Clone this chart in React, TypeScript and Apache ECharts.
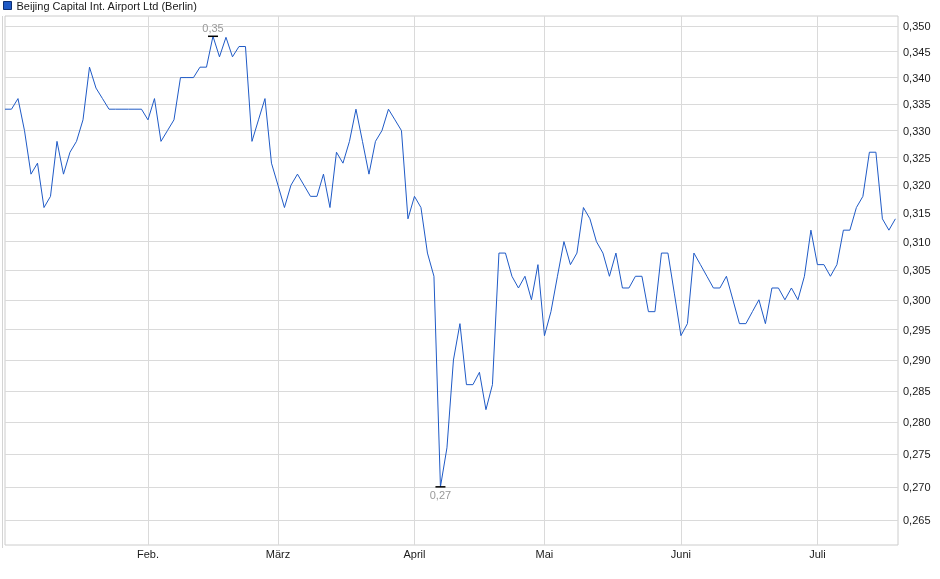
import React, { useEffect, useRef } from 'react';
import * as echarts from 'echarts';

const SERIES_NAME = 'Beijing Capital Int. Airport Ltd (Berlin)';

// Closing prices per trading day (EUR)
const PRICES = [
  0.334, 0.334, 0.336, 0.330, 0.322, 0.324, 0.316, 0.318, 0.328, 0.322,
  0.326, 0.328, 0.332, 0.342, 0.338, 0.336, 0.334, 0.334, 0.334, 0.334,
  0.334, 0.334, 0.332, 0.336, 0.328, 0.330, 0.332, 0.340, 0.340, 0.340,
  0.342, 0.342, 0.348, 0.344, 0.3478, 0.344, 0.346, 0.346, 0.328, 0.332,
  0.336, 0.324, 0.320, 0.316, 0.320, 0.322, 0.320, 0.318, 0.318, 0.322,
  0.316, 0.326, 0.324, 0.328, 0.334, 0.328, 0.322, 0.328, 0.330, 0.334,
  0.332, 0.330, 0.314, 0.318, 0.316, 0.308, 0.304, 0.270, 0.276, 0.290,
  0.296, 0.286, 0.286, 0.288, 0.282, 0.286, 0.308, 0.308, 0.304, 0.302,
  0.304, 0.300, 0.306, 0.294, 0.298, 0.304, 0.310, 0.306, 0.308, 0.316,
  0.314, 0.310, 0.308, 0.304, 0.308, 0.302, 0.302, 0.304, 0.304, 0.298,
  0.298, 0.308, 0.308, 0.301, 0.294, 0.296, 0.308, 0.306, 0.304, 0.302,
  0.302, 0.304, 0.300, 0.296, 0.296, 0.298, 0.300, 0.296, 0.302, 0.302,
  0.300, 0.302, 0.300, 0.304, 0.312, 0.306, 0.306, 0.304, 0.306, 0.312,
  0.312, 0.316, 0.318, 0.326, 0.326, 0.314, 0.312, 0.314,
];

// Index of the first trading day of each month, and its label
const MONTH_STARTS = [22, 42, 63, 83, 104, 125];
const MONTH_LABELS = ['Feb.', 'März', 'April', 'Mai', 'Juni', 'Juli'];

// Price axis (logarithmic) tick values
const Y_TICKS = [
  0.265, 0.27, 0.275, 0.28, 0.285, 0.29, 0.295, 0.3, 0.305, 0.31,
  0.315, 0.32, 0.325, 0.33, 0.335, 0.34, 0.345, 0.35,
];
const Y_MIN = 0.2613;
const Y_MAX = 0.352;
const X_MAX = 137.4;

const comma = (v: number, d: number) => v.toFixed(d).replace('.', ',');

export default function App() {
  const ref = useRef<HTMLDivElement>(null);

  useEffect(() => {
    if (!ref.current) return;
    const chart = echarts.init(ref.current, null, { renderer: 'svg' });
    const font = "'Liberation Sans', Arial, Helvetica, sans-serif";
    const lineColor = '#1f5ac6';
    const gridColor = '#dadada';

    chart.setOption({
      animation: false,
      textStyle: { fontFamily: font },
      legend: {
        data: [SERIES_NAME],
        left: 3,
        top: 0,
        padding: 0,
        icon: 'rect',
        itemWidth: 8,
        itemHeight: 8,
        itemStyle: { color: lineColor, borderColor: '#0d2f73', borderWidth: 1 },
        textStyle: { fontFamily: font, fontSize: 11, color: '#1a1a1a' },
        selectedMode: false,
      },
      grid: {
        left: 5,
        top: 16,
        width: 893,
        height: 529,
        show: true,
        borderColor: '#cccccc',
        borderWidth: 1,
        backgroundColor: 'transparent',
        containLabel: false,
        outerBoundsMode: 'none',
      },
      xAxis: {
        type: 'value',
        min: 0,
        max: X_MAX,
        axisLine: { show: false },
        axisTick: { show: false, customValues: MONTH_STARTS },
        axisLabel: {
          customValues: MONTH_STARTS,
          margin: 3,
          fontFamily: font,
          fontSize: 11,
          color: '#1a1a1a',
          formatter: (v: number) => {
            const k = MONTH_STARTS.indexOf(Math.round(v));
            return k >= 0 ? MONTH_LABELS[k] : '';
          },
        },
        splitLine: { show: true, lineStyle: { color: gridColor, width: 1 } },
      },
      yAxis: {
        type: 'value',
        position: 'right',
        min: Math.log(Y_MIN),
        max: Math.log(Y_MAX),
        axisLine: { show: false },
        axisTick: { show: false, customValues: Y_TICKS.map((t) => Math.log(t)) },
        axisLabel: {
          customValues: Y_TICKS.map((t) => Math.log(t)),
          margin: 5,
          fontFamily: font,
          fontSize: 11,
          color: '#1a1a1a',
          formatter: (v: number) => comma(Math.exp(v), 3),
        },
        splitLine: { show: true, lineStyle: { color: gridColor, width: 1 } },
      },
      series: [
        {
          name: SERIES_NAME,
          type: 'line',
          data: PRICES.map((p, i) => [i, Math.log(p)]),
          showSymbol: false,
          symbol: 'none',
          color: lineColor,
          lineStyle: { color: lineColor, width: 1 },
          markPoint: {
            symbol: 'rect',
            symbolSize: [10, 1.5],
            itemStyle: { color: '#000000' },
            label: {
              show: true,
              fontFamily: font,
              fontSize: 11,
              color: '#999999',
              formatter: (p: any) => comma(Math.exp(Number(p.value)), 2),
            },
            data: [
              { type: 'max', label: { position: 'top', distance: 2 } },
              { type: 'min', label: { position: 'bottom', distance: 2 } },
            ],
          },
        },
      ],
      graphic: [
        {
          type: 'line',
          silent: true,
          shape: { x1: 2.5, y1: 16, x2: 2.5, y2: 548 },
          style: { stroke: '#d4d4d4', lineWidth: 1 },
        },
      ],
    });

    return () => chart.dispose();
  }, []);

  return (
    <div
      ref={ref}
      style={{ position: 'fixed', left: 0, top: 0, width: 940, height: 579 }}
    />
  );
}
